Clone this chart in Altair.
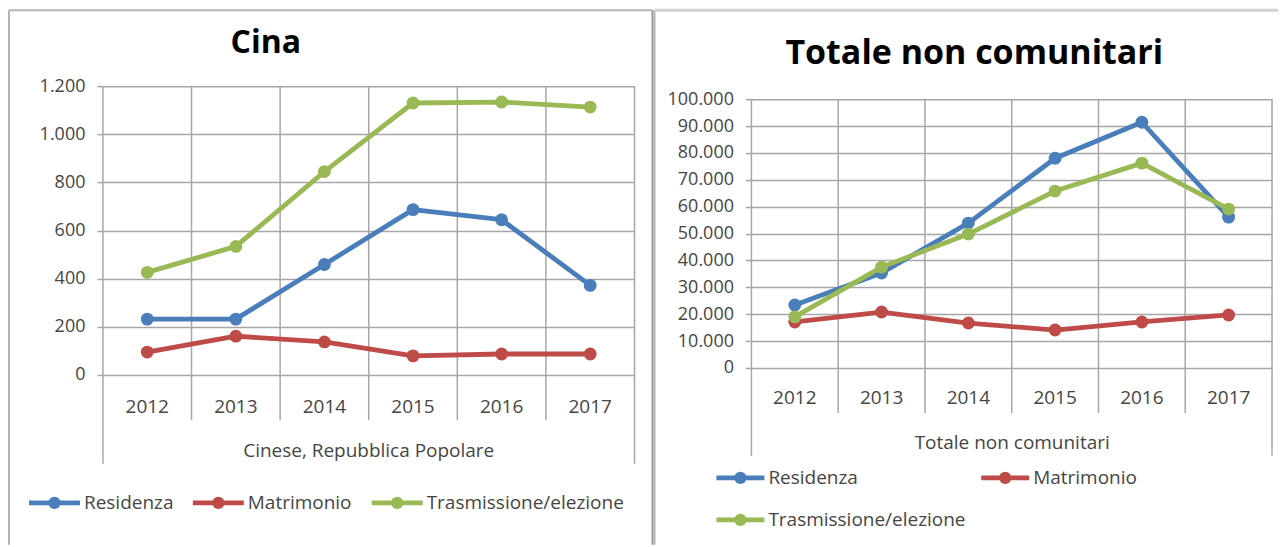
import altair as alt
import pandas as pd

# ---------------- data ----------------
years = ["2012", "2013", "2014", "2015", "2016", "2017"]
series = ["Residenza", "Matrimonio", "Trasmissione/elezione"]
colors = ["#4A7EBB", "#BE4B48", "#98B954"]

cina_residenza = [232, 232, 459, 687, 645, 372]
cina_matrimonio = [95, 161, 137, 79, 87, 87]
cina_trasmissione = [426, 534, 845, 1130, 1134, 1113]

tot_residenza = [23400, 35300, 53900, 78000, 91400, 56100]
tot_matrimonio = [17100, 20800, 16700, 14100, 17100, 19700]
tot_trasmissione = [19000, 37500, 49800, 65800, 76200, 59100]

left_title = "Cina"
left_sub = "Cinese, Repubblica Popolare"
right_title = "Totale non comunitari"
right_sub = "Totale non comunitari"

# ---------------- style ----------------
FONT = "Open Sans"
GRID = "#a6a6a6"
TEXT = "#454545"
BORDER = "#b4b4b4"


def one():
    return pd.DataFrame({"k": [0]})


def text_layer(s, x, y, size, bold=False, color=TEXT, align="center"):
    return alt.Chart(pd.DataFrame({"label": [s]})).mark_text(
        font=FONT, fontSize=size, fontWeight="bold" if bold else "normal",
        color=color, align=align, baseline="middle"
    ).encode(text="label:N", x=alt.value(x), y=alt.value(y))


def rule(x1, y1, x2, y2, color, w):
    return alt.Chart(one()).mark_rule(color=color, strokeWidth=w).encode(
        x=alt.value(x1), x2=alt.value(x2), y=alt.value(y1), y2=alt.value(y2))


def panel(vals, ymax, ystep, width, height, ytop, title, title_pos, title_size,
          sub, sub_pos, grid_inner, grid_outer, xlabel_pad, legend_items, line_len, extra):
    xscale = alt.Scale(domain=years, paddingInner=0, paddingOuter=0)
    yscale = alt.Scale(domain=[0, ymax], range=[height, ytop], nice=False, zero=True)
    xaxis = alt.Axis(domain=False, ticks=False, tickSize=0, grid=False, labelFont=FONT,
                     labelFontSize=19, labelColor=TEXT, labelPadding=xlabel_pad,
                     labelBaseline="middle", labelAngle=0, title=None)
    yaxis = alt.Axis(values=list(range(0, ymax + 1, ystep)),
                     labelExpr="replace(format(datum.value, ','), ',', '.')",
                     grid=True, gridColor=GRID, gridWidth=1.5, domain=False, ticks=True,
                     tickSize=6, tickColor=GRID, tickWidth=1.5, labelFont=FONT,
                     labelFontSize=18, labelColor=TEXT, labelPadding=12, title=None)

    layers = list(extra)

    # vertical category gridlines (band edges) extending into label area
    layers.append(alt.Chart(pd.DataFrame({"year": years[1:]})).mark_rule(
        color=GRID, strokeWidth=1.5).encode(
        x=alt.X("year:O", bandPosition=0, scale=xscale, axis=xaxis),
        y=alt.value(ytop), y2=alt.value(grid_inner)))
    layers.append(alt.Chart(pd.DataFrame({"year": years[:1]})).mark_rule(
        color=GRID, strokeWidth=1.5).encode(
        x=alt.X("year:O", bandPosition=0, scale=xscale, axis=xaxis),
        y=alt.value(ytop), y2=alt.value(grid_outer)))
    layers.append(alt.Chart(pd.DataFrame({"year": years[-1:]})).mark_rule(
        color=GRID, strokeWidth=1.5).encode(
        x=alt.X("year:O", bandPosition=1, scale=xscale, axis=xaxis),
        y=alt.value(ytop), y2=alt.value(grid_outer)))

    for s, c, v in zip(series, colors, vals):
        df = pd.DataFrame({"year": years, "value": v, "series": s})
        base = alt.Chart(df).encode(
            x=alt.X("year:O", scale=xscale, axis=xaxis),
            y=alt.Y("value:Q", scale=yscale, axis=yaxis))
        layers.append(base.mark_line(color=c, strokeWidth=4.8, strokeJoin="round", strokeCap="round"))
        layers.append(base.mark_circle(color=c, size=165, opacity=1))

    layers.append(text_layer(title, title_pos[0], title_pos[1], title_size, bold=True, color="#000000"))
    layers.append(text_layer(sub, sub_pos[0], sub_pos[1], 19))

    for (xs, y), s, c in zip(legend_items, series, colors):
        layers.append(rule(xs, y, xs + line_len, y, c, 4.8))
        layers.append(alt.Chart(one()).mark_circle(color=c, size=150, opacity=1).encode(
            x=alt.value(xs + line_len / 2), y=alt.value(y)))
        layers.append(text_layer(s, xs + line_len + 4, y, 19, align="left"))

    return alt.layer(*layers).properties(width=width, height=height)


# left panel: plot origin at page (103, 86)
left_extra = [
    alt.Chart(one()).mark_rect(opacity=0).encode(
        x=alt.value(-95), x2=alt.value(-94), y=alt.value(-78), y2=alt.value(-77)),
    rule(-94, -76, -94, 459, BORDER, 2),
    rule(-94, -76, 550, -76, BORDER, 2),
    rule(550, -76, 550, 459, "#9a9a9a", 2),
]
left = panel([cina_residenza, cina_matrimonio, cina_trasmissione], 1200, 200,
             532, 289, 0, left_title, (163, -43), 32, left_sub, (266, 365),
             334, 378, 32, [(-74, 417), (90, 417), (269, 417)], 51, left_extra)

# right panel: plot origin at page (752, 86)
right_extra = [
    rule(-97, -76, -97, 459, BORDER, 2),
    rule(-97, -76, 527, -76, "#d2d2d2", 3),
]
right = panel([tot_residenza, tot_matrimonio, tot_trasmissione], 100000, 10000,
              521, 282, 13, right_title, (223, -32), 34, right_sub, (261, 357),
              327, 370, 30, [(-35, 392), (230, 392), (-35, 434)], 48, right_extra)

chart = alt.hconcat(left, right, spacing=117, bounds="flush").properties(
    padding={"left": 0, "top": 0, "right": 0, "bottom": 0}
).configure_view(stroke=None)

chart.save("out.html", embed_options={"renderer": "svg", "actions": False})
